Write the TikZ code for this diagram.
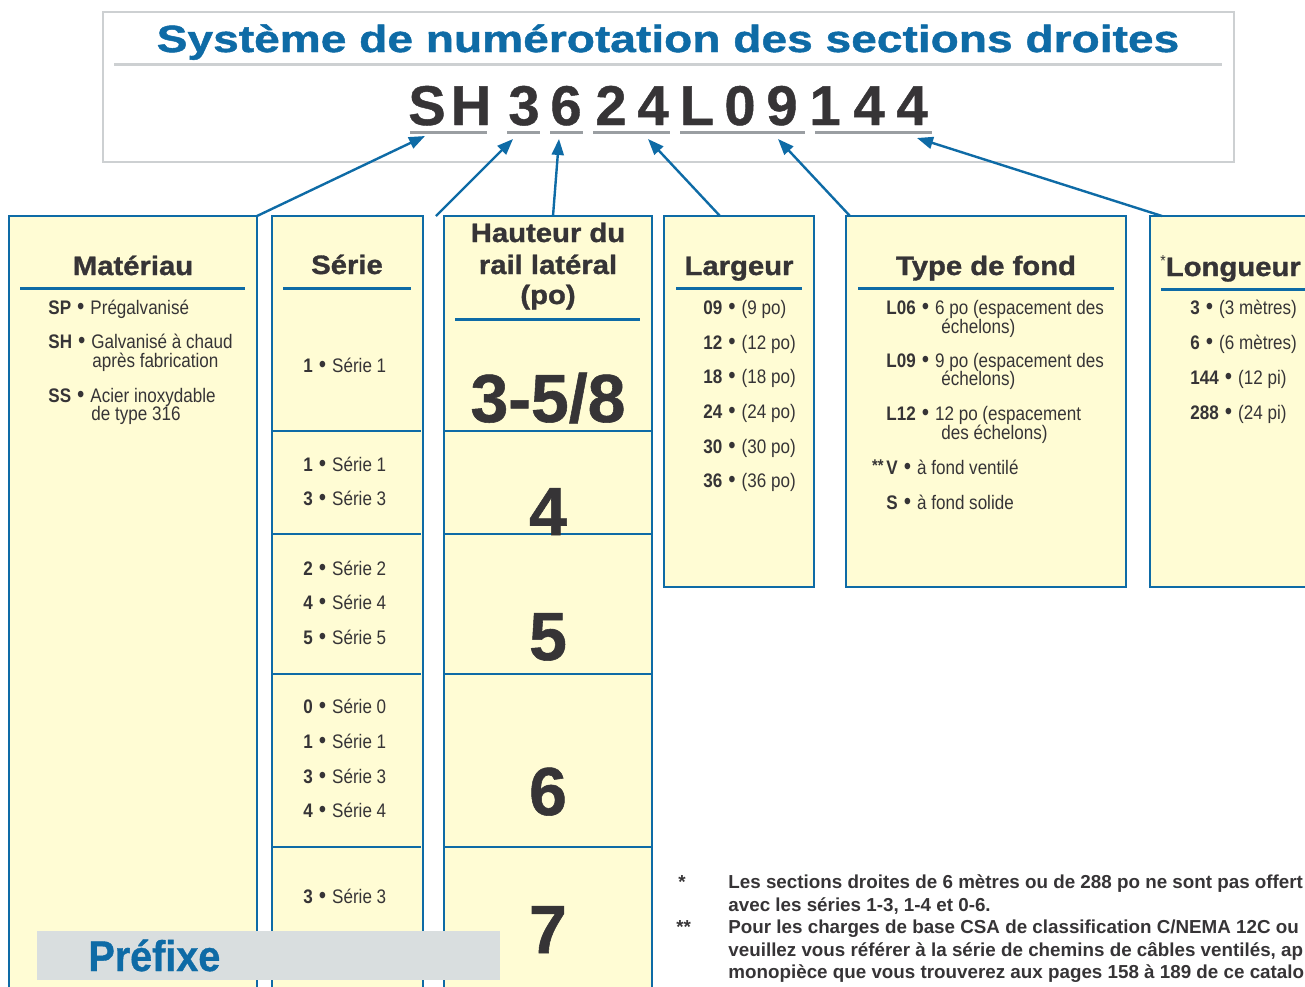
\documentclass[tikz,border=0pt]{standalone}
\usepackage{fontspec}
\setmainfont{Liberation Sans}
\newfontfamily\condfont[FakeStretch=0.87]{Liberation Sans}
\newfontfamily\prefont[FakeStretch=0.92,BoldFeatures={FakeBold=0.8}]{Liberation Sans}
\newfontfamily\headfont[FakeStretch=1.1,BoldFeatures={FakeBold=1.2}]{Liberation Sans}
\newfontfamily\titlefont[FakeStretch=1.22,BoldFeatures={FakeBold=1.2}]{Liberation Sans}
\newfontfamily\codefont[BoldFeatures={FakeBold=0.8}]{Liberation Sans}
\usetikzlibrary{arrows.meta}
\definecolor{rulblue}{HTML}{0E6BA6}
\definecolor{paleyel}{HTML}{FFFCD4}
\definecolor{inkgrey}{HTML}{363436}
\definecolor{linegrey}{HTML}{9A9EA2}
\definecolor{framegrey}{HTML}{CDD0D2}
\definecolor{tabgrey}{HTML}{D9DEDF}
\newcommand\bul{\hspace{3pt}{\fontsize{12}{12}\selectfont•}\hspace{3pt}}

\begin{document}
\begin{tikzpicture}[x=0.5pt,y=-0.5pt,
  col/.style={draw=rulblue,line width=0.75pt,fill=paleyel},
  headrule/.style={draw=rulblue,line width=1.5pt},
  rowrule/.style={draw=rulblue,line width=0.6pt},
  pointer/.style={draw=rulblue,line width=1.2pt,-{Triangle[length=8pt,width=6pt]}},
  head/.style={font=\headfont\bfseries\fontsize{13.3}{16}\selectfont,text=inkgrey,anchor=base,inner sep=0pt},
  item/.style={font=\condfont\fontsize{9.8}{11}\selectfont,text=inkgrey,anchor=base west,inner sep=0pt},
  big/.style={font=\codefont\bfseries\fontsize{34}{34}\selectfont,text=inkgrey,anchor=base,inner sep=0pt},
  codechar/.style={font=\codefont\bfseries\fontsize{28}{28}\selectfont,text=inkgrey,anchor=base,inner sep=0pt},
  note/.style={font=\bfseries\fontsize{9.4}{10}\selectfont,text=inkgrey,anchor=base west,inner sep=0pt}]
\useasboundingbox (0,0) rectangle (1305,986);
\clip (0,0) rectangle (1305,986);

% cadre du haut
\draw[framegrey,line width=0.6pt,fill=white] (103,12) rectangle (1234,162);
\draw[framegrey,line width=1.5pt] (114,64) -- (1222,64);
\node[font=\titlefont\bfseries\fontsize{18.9}{20}\selectfont,text=rulblue,anchor=base,inner sep=0pt] (titre) at (668,52) {Système de numérotation des sections droites};
\foreach \c/\x in {S/427,H/471,3/524,6/566,2/611,4/653,L/697,0/740,9/782,1/825,4/869,4/912}
  \node[codechar] (code-\x) at (\x,125) {\c};
\foreach \a/\b in {410/487,507/540,550/583,593/670,680/805,815/932}
  \draw[linegrey,line width=1.5pt] (\a,132) -- (\b,132);

% colonnes
\draw[col] (9,216) rectangle (257,1000);
\draw[col] (272,216) rectangle (423,1000);
\draw[col] (444,216) rectangle (652,1000);
\draw[col] (664,216) rectangle (814,587);
\draw[col] (846,216) rectangle (1126,587);
\draw[col] (1150,216) rectangle (1330,587);
\draw[headrule] (20,288) -- (245,288);
\draw[headrule] (283,288) -- (411,288);
\draw[headrule] (455,319) -- (640,319);
\draw[headrule] (676,288) -- (802,288);
\draw[headrule] (858,288) -- (1114,288);
\draw[headrule] (1161,289) -- (1320,289);
\foreach \y in {431,534,674,847} {
  \draw[rowrule] (273,\y) -- (421,\y);
  \draw[rowrule] (445,\y) -- (651,\y);
}

% fleches
\coordinate (u-sh) at (425,136);
\coordinate (u-3) at (513,139);
\coordinate (u-6) at (559,139);
\coordinate (u-24) at (648,139);
\coordinate (u-l09) at (778,139);
\coordinate (u-144) at (917,138);
\coordinate (t-mat) at (257,216);
\coordinate (t-ser) at (436,216);
\coordinate (t-hau) at (553,216);
\coordinate (t-lar) at (720,216);
\coordinate (t-typ) at (850,216);
\coordinate (t-lon) at (1162,216);
\draw[pointer] (t-mat) -- (u-sh);
\draw[pointer] (t-ser) -- (u-3);
\draw[pointer] (t-hau) -- (u-6);
\draw[pointer] (t-lar) -- (u-24);
\draw[pointer] (t-typ) -- (u-l09);
\draw[pointer] (t-lon) -- (u-144);

% titres des colonnes
\node[head] (h-mat) at (133,275) {Matériau};
\node[head] (h-ser) at (347,274) {Série};
\node[head] (h-hau1) at (548,242) {Hauteur du};
\node[head] (h-hau2) at (548,274) {rail latéral};
\node[head] (h-hau3) at (548,304) {(po)};
\node[head] (h-lar) at (739,275) {Largeur};
\node[head] (h-typ) at (986,275) {Type de fond};
\node[head,anchor=base west] (h-lon) at (1160,276) {{\condfont\mdseries\fontsize{8}{8}\selectfont\raisebox{5pt}{*}}Longueur};

% Materiau
\node[item] (m-sp) at (48,314) {\textbf{SP}\bul Prégalvanisé};
\node[item] (m-sh) at (48,348) {\textbf{SH}\bul Galvanisé à chaud};
\node[item] (m-sh2) at (92,367) {après fabrication};
\node[item] (m-ss) at (48,402) {\textbf{SS}\bul Acier inoxydable};
\node[item] (m-ss2) at (91,420) {de type 316};

% Serie
\foreach \y/\n in {372/1,471/1,505/3,575/2,609/4,644/5,713/0,748/1,783/3,817/4,903/3}
  \node[item] (s-\y) at (303,\y) {\textbf{\n}\bul Série \n};

% Hauteur
\node[big] (b-358) at (548,422) {3-5/8};
\node[big] (b-4) at (548,535) {4};
\node[big] (b-5) at (548,660) {5};
\node[big] (b-6) at (548,815) {6};
\node[big] (b-7) at (548,953) {7};

% Largeur
\foreach \y/\n/\v in {314/09/9,349/12/12,383/18/18,418/24/24,453/30/30,487/36/36}
  \node[item] (l-\y) at (703,\y) {\textbf{\n}\bul(\v{} po)};

% Type de fond
\node[item] (f-l06) at (886,314) {\textbf{L06}\bul 6 po (espacement des};
\node[item] (f-l06b) at (941,333) {échelons)};
\node[item] (f-l09) at (886,367) {\textbf{L09}\bul 9 po (espacement des};
\node[item] (f-l09b) at (941,385) {échelons)};
\node[item] (f-l12) at (886,420) {\textbf{L12}\bul 12 po (espacement};
\node[item] (f-l12b) at (941,439) {des échelons)};
\node[item,anchor=base east] (f-star) at (884,471) {\bfseries\fontsize{8.5}{9}\selectfont **};
\node[item] (f-v) at (886,474) {\textbf{V}\bul à fond ventilé};
\node[item] (f-s) at (886,509) {\textbf{S}\bul à fond solide};

% Longueur
\foreach \y/\n/\v in {314/3/(3 mètres),349/6/(6 mètres),384/144/(12 pi),419/288/(24 pi)}
  \node[item] (g-\y) at (1190,\y) {\textbf{\n}\bul\v};

% notes
\node[note] (n-1) at (678,888) {*};
\node[note] (n-1a) at (728,888) {Les sections droites de 6 mètres ou de 288 po ne sont pas offert};
\node[note] (n-1b) at (728,911) {avec les séries 1-3, 1-4 et 0-6.};
\node[note] (n-2) at (676,933) {**};
\node[note] (n-2a) at (728,933) {Pour les charges de base CSA de classification C/NEMA 12C ou};
\node[note] (n-2b) at (728,956) {veuillez vous référer à la série de chemins de câbles ventilés, ap};
\node[note] (n-2c) at (728,978) {monopièce que vous trouverez aux pages 158 à 189 de ce catalo};

% prefixe
\fill[tabgrey] (37,931) rectangle (500,980);
\node[font=\prefont\bfseries\fontsize{21.5}{22}\selectfont,text=rulblue,anchor=base west,inner sep=0pt] (prefixe) at (88,971) {Préfixe};
\end{tikzpicture}
\end{document}
